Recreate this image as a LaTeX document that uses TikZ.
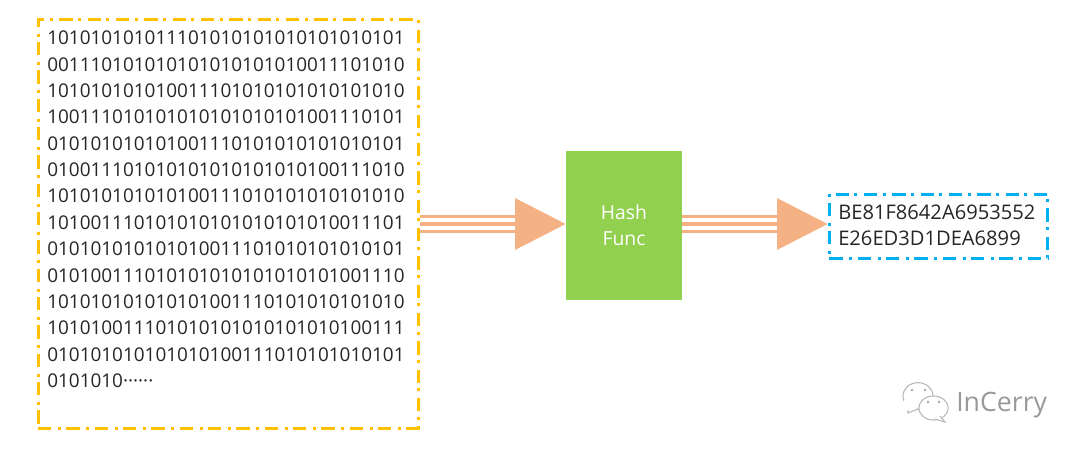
\documentclass[tikz,border=0pt]{standalone}
\usepackage{fontspec}
\setmainfont{Open Sans}
\usetikzlibrary{arrows.meta,shapes.geometric}
\definecolor{boxorange}{HTML}{FFC000}
\definecolor{boxblue}{HTML}{00B0F0}
\definecolor{hashgreen}{HTML}{92D050}
\definecolor{flowpeach}{HTML}{F4B183}
\definecolor{inkgrey}{HTML}{262626}
\tikzset{
  dashbox/.style={draw=#1, line width=2.25pt, dash pattern=on 10pt off 5pt on 2.25pt off 4pt, inner sep=0pt},
  bitstext/.style={inner sep=0pt, anchor=north west, align=left, text=inkgrey, font=\fontsize{14.2}{19.75}\selectfont},
  digesttext/.style={inner sep=0pt, anchor=north west, align=left, text=inkgrey, font=\fontsize{15.1}{19.5}\selectfont},
  hashbox/.style={fill=hashgreen, text=white, align=center, inner sep=0pt, font=\fontsize{14.5}{19.5}\selectfont},
  flowline/.style={draw=flowpeach, line width=2.2pt, shorten >=37pt},
  flowmain/.style={draw=flowpeach, line width=3.6pt, -{Triangle[length=38pt,width=38pt,fill=flowpeach]}},
  bubble/.style={draw=black!28, fill=white, line width=.8pt},
  bubbleeye/.style={fill=black!35, circle, inner sep=0pt, minimum size=2.2pt},
}
\begin{document}
\begin{tikzpicture}[x=0.75pt,y=-0.75pt]
\useasboundingbox (0,0) rectangle (1080,453);

% input message
\node[dashbox=boxorange, minimum width=285pt, minimum height=306pt] (bits) at (228,224) {};
\node[bitstext] (bitsdata) at (47,31) {101010101011101010101010101010101\\
001110101010101010101010011101010\\
101010101010011101010101010101010\\
100111010101010101010101001110101\\
010101010101001110101010101010101\\
010011101010101010101010100111010\\
101010101010100111010101010101010\\
101001110101010101010101010011101\\
010101010101010011101010101010101\\
010100111010101010101010101001110\\
101010101010101001110101010101010\\
101010011101010101010101010100111\\
010101010101010100111010101010101\\
0101010······};

% hash function
\node[hashbox, minimum width=87pt, minimum height=112pt] (hash) at (624,225.5) {Hash\\Func};

% digest
\node[dashbox=boxblue, minimum width=164pt, minimum height=48pt] (digest) at (938.5,226) {};
\node[digesttext] (digestdata) at (838,205) {BE81F8642A6953552\\E26ED3D1DEA6899};

% arrows
\draw[flowline] ([yshift=5.5pt]bits.east) -- ([yshift=5.5pt]bits.east-|hash.west);
\draw[flowline] ([yshift=-5.5pt]bits.east) -- ([yshift=-5.5pt]bits.east-|hash.west);
\draw[flowmain] (bits.east) -- (bits.east-|hash.west);
\draw[flowline] ([yshift=5.5pt]bits.east-|hash.east) -- ([yshift=5.5pt]bits.east-|digest.west);
\draw[flowline] ([yshift=-5.5pt]bits.east-|hash.east) -- ([yshift=-5.5pt]bits.east-|digest.west);
\draw[flowmain] (bits.east-|hash.east) -- (bits.east-|digest.west);

% watermark
\node[bubble, ellipse, minimum width=22.5pt, minimum height=20pt, inner sep=0pt] (bubbleA) at (918,396) {};
\draw[bubble] (908,406) -- (908,413) -- (918,409);
\node[bubble, draw=none, fill=white, circle, minimum size=10pt, inner sep=0pt] (bubblegap) at (910,404) {};
\node[bubble, ellipse, minimum width=22pt, minimum height=18pt, inner sep=0pt] (bubbleB) at (933.5,408) {};
\draw[bubble] (940,416) -- (945,422) -- (935,419);
\node[bubbleeye] (eyeA) at (912,390) {};
\node[bubbleeye] (eyeB) at (925,390) {};
\node[bubbleeye] (eyeC) at (928,402) {};
\node[bubbleeye] (eyeD) at (939,402) {};
\node[inner sep=0pt, anchor=west, text=black!40, font=\fontsize{20}{24}\selectfont] (mark) at (956,405) {InCerry};
\end{tikzpicture}
\end{document}
